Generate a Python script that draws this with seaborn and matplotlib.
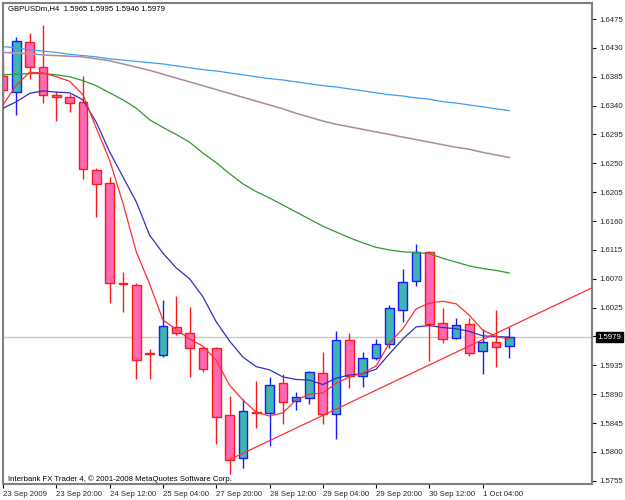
import matplotlib
matplotlib.use("Agg")
import matplotlib.pyplot as plt
import seaborn as sns

# GBPUSDm H4 candles, bar index 0..38
opens = [1.6386, 1.6362, 1.6439, 1.6400, 1.6356, 1.6353, 1.6345, 1.6240, 1.6219, 1.6064,
         1.6060, 1.5955, 1.5951, 1.5995, 1.5985, 1.5962, 1.5962, 1.5857, 1.5790, 1.5863,
         1.5861, 1.5907, 1.5879, 1.5884, 1.5923, 1.5859, 1.5974, 1.5919, 1.5946, 1.5968,
         1.6022, 1.6066, 1.6111, 1.6001, 1.5978, 1.6000, 1.5957, 1.5971, 1.5965]
highs = [1.6413, 1.6447, 1.6453, 1.6465, 1.6363, 1.6358, 1.6386, 1.6243, 1.6229, 1.6081,
         1.6064, 1.5960, 1.6037, 1.6043, 1.6026, 1.5965, 1.5963, 1.5887, 1.5883, 1.5910,
         1.5917, 1.5922, 1.5894, 1.5926, 1.5956, 1.5988, 1.5985, 1.5956, 1.5976, 1.6029,
         1.6085, 1.6124, 1.6113, 1.6025, 1.6009, 1.6009, 1.5991, 1.6022, 1.5995]
lows = [1.6349, 1.6326, 1.6382, 1.6344, 1.6316, 1.6330, 1.6226, 1.6167, 1.6032, 1.6018,
        1.5914, 1.5914, 1.5948, 1.5982, 1.5917, 1.5925, 1.5812, 1.5766, 1.5775, 1.5838,
        1.5810, 1.5843, 1.5865, 1.5874, 1.5844, 1.5820, 1.5899, 1.5902, 1.5944, 1.5962,
        1.6002, 1.6058, 1.5942, 1.5970, 1.5976, 1.5949, 1.5922, 1.5933, 1.5946]
closes = [1.6364, 1.6440, 1.6400, 1.6356, 1.6353, 1.6344, 1.6241, 1.6217, 1.6063, 1.6062,
          1.5944, 1.5953, 1.5997, 1.5985, 1.5962, 1.5929, 1.5855, 1.5788, 1.5864, 1.5861,
          1.5905, 1.5878, 1.5885, 1.5924, 1.5859, 1.5975, 1.5919, 1.5946, 1.5968, 1.6024,
          1.6065, 1.6111, 1.6000, 1.5976, 1.5998, 1.5955, 1.5972, 1.5963, 1.5979]

# moving averages
ma_skyblue = [1.6432, 1.6430, 1.6427, 1.6425, 1.6423, 1.6420, 1.6418, 1.6416, 1.6413, 1.6411,
              1.6409, 1.6407, 1.6405, 1.6402, 1.6399, 1.6396, 1.6394, 1.6391, 1.6388, 1.6385,
              1.6382, 1.6380, 1.6377, 1.6374, 1.6371, 1.6369, 1.6366, 1.6363, 1.6360, 1.6357,
              1.6355, 1.6352, 1.6350, 1.6346, 1.6344, 1.6341, 1.6338, 1.6335, 1.6332]
ma_tan = [1.6423, 1.6422, 1.6421, 1.6419, 1.6418, 1.6417, 1.6416, 1.6413, 1.6410, 1.6405,
          1.6400, 1.6395, 1.6389, 1.6383, 1.6377, 1.6371, 1.6365, 1.6359, 1.6353, 1.6347,
          1.6341, 1.6335, 1.6328, 1.6322, 1.6316, 1.6311, 1.6307, 1.6303, 1.6299, 1.6295,
          1.6291, 1.6287, 1.6283, 1.6279, 1.6275, 1.6272, 1.6267, 1.6263, 1.6259]
ma_green = [1.6388, 1.6389, 1.6390, 1.6390, 1.6388, 1.6385, 1.6379, 1.6371, 1.6360, 1.6349,
            1.6336, 1.6318, 1.6306, 1.6295, 1.6283, 1.6266, 1.6251, 1.6234, 1.6218, 1.6206,
            1.6196, 1.6185, 1.6174, 1.6163, 1.6152, 1.6143, 1.6134, 1.6126, 1.6119, 1.6115,
            1.6112, 1.6111, 1.6109, 1.6102, 1.6096, 1.6090, 1.6086, 1.6083, 1.6079]
ma_red = [1.6341, 1.6372, 1.6392, 1.6391, 1.6385, 1.6378, 1.6357, 1.6305, 1.6255, 1.6188,
          1.6112, 1.6062, 1.6006, 1.5991, 1.5976, 1.5965, 1.5943, 1.5904, 1.5881, 1.5862,
          1.5856, 1.5861, 1.5881, 1.5890, 1.5892, 1.5907, 1.5917, 1.5923, 1.5934, 1.5970,
          1.5992, 1.6023, 1.6032, 1.6035, 1.6031, 1.6013, 1.5990, 1.5980, 1.5976]
ma_blue = [1.6336, 1.6346, 1.6359, 1.6363, 1.6361, 1.6360, 1.6349, 1.6314, 1.6268, 1.6229,
           1.6190, 1.6138, 1.6110, 1.6087, 1.6070, 1.6042, 1.6003, 1.5973, 1.5948, 1.5933,
           1.5928, 1.5917, 1.5913, 1.5912, 1.5905, 1.5915, 1.5920, 1.5922, 1.5929, 1.5953,
           1.5976, 1.5995, 1.5997, 1.5994, 1.5992, 1.5988, 1.5981, 1.5980, 1.5979]

trend_x = [17, 50]
trend_y = [1.5788, 1.6113]
bid = 1.5979

tick_pos = [0, 4, 8, 12, 16, 20, 24, 28, 32, 36]
tick_labels = ['23 Sep 2009', '23 Sep 20:00', '24 Sep 12:00', '25 Sep 04:00', '27 Sep 20:00',
               '28 Sep 12:00', '29 Sep 04:00', '29 Sep 20:00', '30 Sep 12:00', '1 Oct 04:00']
price_ticks = [1.5755, 1.5800, 1.5845, 1.5890, 1.5935, 1.5980, 1.6025, 1.6070, 1.6115,
               1.6160, 1.6205, 1.6250, 1.6295, 1.6340, 1.6385, 1.6430, 1.6475]

sns.set_style("white")
plt.rcParams['font.family'] = ['Liberation Sans', 'DejaVu Sans']
fs = 5.6

fig = plt.figure(figsize=(6.25, 5), dpi=100)
ax = fig.add_axes([3 / 625, 16 / 500, 589 / 625, 481 / 500])

idx = list(range(len(opens)))
for i in idx:
    o, h, l, c = opens[i], highs[i], lows[i], closes[i]
    up = c > o
    edge = '#1a1aff' if up else '#ff1a1a'
    fill = '#3fb5b0' if up else '#ff69b4'
    ax.vlines(i, l, h, color=edge, lw=1, zorder=2)
    ax.bar(i, max(abs(c - o), 0.00012), bottom=min(o, c), width=0.65,
           color=fill, edgecolor=edge, lw=1, zorder=2.5)

ax.axhline(bid, color='#c8c8c8', lw=1, zorder=1)

sns.lineplot(x=idx, y=ma_skyblue, ax=ax, color='#3f9ef0', lw=0.9, zorder=3)
sns.lineplot(x=idx, y=ma_tan, ax=ax, color='#d4b494', lw=1.3, zorder=3)
sns.lineplot(x=idx, y=ma_tan, ax=ax, color='#8878c8', lw=0.5, zorder=3.1)
sns.lineplot(x=idx, y=ma_green, ax=ax, color='#2e9a2e', lw=0.9, zorder=3)
sns.lineplot(x=idx, y=ma_blue, ax=ax, color='#3030c0', lw=0.9, zorder=3)
sns.lineplot(x=idx, y=ma_red, ax=ax, color='#ff3030', lw=0.9, zorder=3)
sns.lineplot(x=trend_x, y=trend_y, ax=ax, color='#ff3030', lw=0.9, zorder=3)

ax.set_xlim(0, 44.2)
ax.set_ylim(1.5750, 1.6500)

ax.set_xticks(tick_pos)
ax.set_xticklabels(tick_labels, fontsize=fs)
for lab in ax.get_xticklabels():
    lab.set_horizontalalignment('left')
ax.yaxis.tick_right()
ax.set_yticks(price_ticks)
ax.set_yticklabels([f'{p:.4f}' for p in price_ticks], fontsize=fs)
ax.tick_params(axis='both', which='both', direction='out', length=3, width=0.8,
               color='#000000', pad=2, bottom=True, right=True, left=False)
ax.set_xlabel('')
ax.set_ylabel('')

for s in ax.spines.values():
    s.set_color('#808080')
    s.set_linewidth(1.5)

ax.annotate(f'{bid:.4f}', xy=(1.0, bid), xycoords=('axes fraction', 'data'),
            xytext=(4, 0), textcoords='offset points', va='center', ha='left',
            fontsize=fs, color='white',
            bbox=dict(boxstyle='square,pad=0.2', fc='black', ec='black'))

ax.text(5 / 589, 1 - 6 / 481, 'GBPUSDm,H4  1.5965 1.5995 1.5946 1.5979',
        transform=ax.transAxes, fontsize=fs, va='center', ha='left', color='black')
ax.text(5 / 589, 5 / 481, 'Interbank FX Trader 4, \u00a9 2001-2008 MetaQuotes Software Corp.',
        transform=ax.transAxes, fontsize=fs, va='center', ha='left', color='black')

fig.savefig('out.png', dpi=100, facecolor='white')
